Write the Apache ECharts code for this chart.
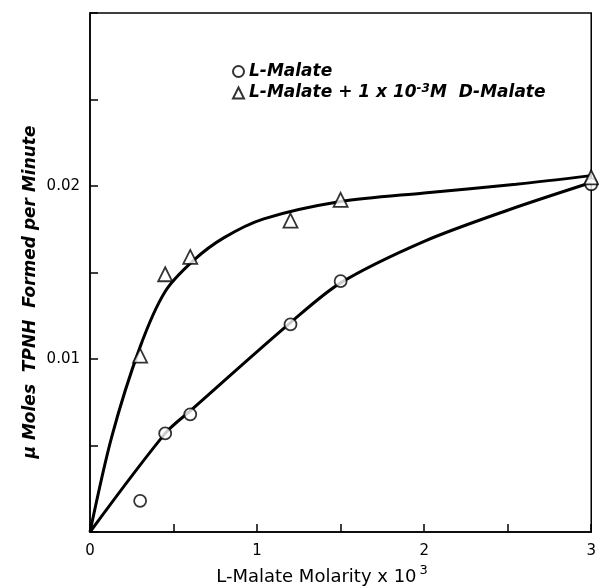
<!DOCTYPE html>
<html>
<head>
<meta charset="utf-8">
<script src="https://cdn.jsdelivr.net/npm/echarts@6/dist/echarts.min.js"></script>
<style>
html, body { margin: 0; padding: 0; background: #fff; }
#chart { width: 599px; height: 587px; }
</style>
</head>
<body>
<div id="chart"></div>
<script>
const chart = echarts.init(document.getElementById('chart'));

// measured points
var lMalate = [[0.3, 0.0018], [0.45, 0.0057], [0.6, 0.0068], [1.2, 0.0120], [1.5, 0.0145], [3.0, 0.0201]];
var lMalateD = [[0.3, 0.0102], [0.45, 0.0149], [0.6, 0.0159], [1.2, 0.0180], [1.5, 0.0192], [3.0, 0.0205]];

// hand drawn curves
var lMalateCurve = [[0, 0], [0.45, 0.0057], [0.6, 0.0070], [1.2, 0.0121], [1.5, 0.0144], [2.0, 0.0168], [2.5, 0.0186], [3.0, 0.0202]];
var lMalateDCurve = [[0, 0], [0.13, 0.0055], [0.3, 0.0107], [0.45, 0.0139], [0.62, 0.0157],
    [0.8, 0.0170], [1.04, 0.0181], [1.5, 0.0191], [2.0, 0.0196], [2.55, 0.0201], [3.0, 0.0206]];

var xLabels = ['0', '1', '2', '3'];
var yLabels = ['0.01', '0.02'];

var font = 'DejaVu Sans';

var option = {
    animation: false,
    grid: {
        left: 90, right: 4, top: 13, bottom: 55,
        show: true, borderColor: '#000', borderWidth: 1.5
    },
    legend: {
        orient: 'vertical',
        left: 227, top: 58,
        itemWidth: 11, itemHeight: 11, itemGap: 3,
        data: ['L-Malate', 'L-Malate + D-Malate'],
        formatter: function (name) {
            if (name === 'L-Malate') return 'L-Malate';
            return 'L-Malate + 1 x 10{sup|-3}M  D-Malate';
        },
        textStyle: {
            color: '#000', fontSize: 17, fontStyle: 'italic', fontWeight: 'bold', fontFamily: font,
            rich: { sup: { fontSize: 12, fontStyle: 'italic', fontWeight: 'bold', fontFamily: font, verticalAlign: 'top', padding: [0, 0, 8, 0] } }
        }
    },
    xAxis: {
        type: 'value', min: 0, max: 3, interval: 0.5,
        axisLine: { lineStyle: { color: '#000', width: 1.5 } },
        axisTick: { inside: true, length: 8, lineStyle: { color: '#000', width: 1.5 } },
        splitLine: { show: false },
        axisLabel: {
            color: '#000', fontSize: 15, fontFamily: font, margin: 12,
            formatter: function (v) { return xLabels.indexOf(String(v)) >= 0 ? String(v) : ''; }
        }
    },
    yAxis: {
        type: 'value', min: 0, max: 0.03, interval: 0.005,
        axisLine: { lineStyle: { color: '#000', width: 1.5 } },
        axisTick: { inside: true, length: 8, lineStyle: { color: '#000', width: 1.5 } },
        splitLine: { show: false },
        axisLabel: {
            color: '#000', fontSize: 15, fontFamily: font, margin: 10,
            formatter: function (v) { var s = v.toFixed(2); return yLabels.indexOf(s) >= 0 && Math.abs(v - +s) < 1e-9 ? s : ''; }
        }
    },
    graphic: [
        {
            type: 'text', x: 31, y: 292, rotation: Math.PI / 2,
            style: {
                text: 'μ Moles  TPNH  Formed per Minute', fill: '#000',
                font: 'italic bold 17px ' + font, textAlign: 'center', textVerticalAlign: 'middle'
            }
        },
        {
            type: 'text', x: 322, y: 577,
            style: {
                text: 'L-Malate Molarity x 10{sup|3}', fill: '#000',
                font: '18px ' + font, textAlign: 'center', textVerticalAlign: 'middle',
                rich: { sup: { fontSize: 13, fontFamily: font, verticalAlign: 'top', padding: [0, 0, 12, 3] } }
            }
        }
    ],
    series: [
        {
            name: 'L-Malate curve', type: 'line', data: lMalateCurve, smooth: 0.3,
            showSymbol: false, lineStyle: { color: '#000', width: 3 }, z: 1
        },
        {
            name: 'L-Malate + D-Malate curve', type: 'line', data: lMalateDCurve, smooth: 0.3,
            showSymbol: false, lineStyle: { color: '#000', width: 3 }, z: 1
        },
        {
            name: 'L-Malate', type: 'scatter', data: lMalate, symbol: 'circle', symbolSize: 12,
            itemStyle: { color: '#fff', borderColor: '#000', borderWidth: 1.8 }, z: 3
        },
        {
            name: 'L-Malate + D-Malate', type: 'scatter', data: lMalateD, symbol: 'triangle', symbolSize: 14,
            itemStyle: { color: '#fff', borderColor: '#000', borderWidth: 1.8 }, z: 3
        }
    ]
};
chart.setOption(option);
</script>
</body>
</html>
